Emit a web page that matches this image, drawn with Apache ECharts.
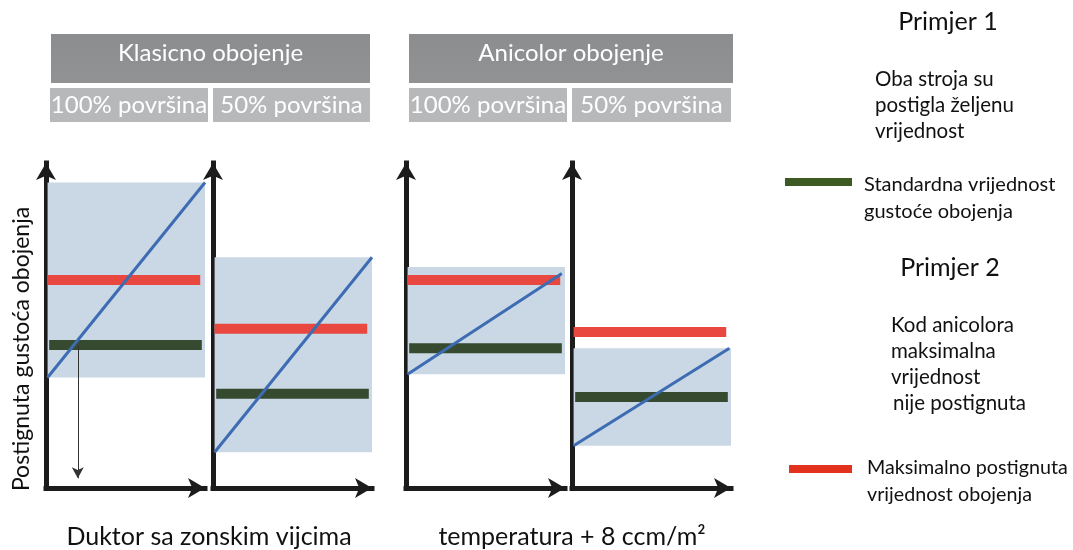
<!DOCTYPE html>
<html>
<head>
<meta charset="utf-8">
<style>
  html, body { margin: 0; padding: 0; background: #fff; }
  #container { width: 1073px; height: 550px; }
</style>
<script src="https://cdn.jsdelivr.net/npm/echarts@6/dist/echarts.min.js"></script>
</head>
<body>
<div id="container"></div>
<script>
// one entry per panel: Klasicno 100%, Klasicno 50%, Anicolor 100%, Anicolor 50%
var shadeLow = [34, 11, 35, 13];
var shadeHigh = [94, 71, 68, 43];
var trendStart = [34, 11, 35, 13];
var trendEnd = [94, 71, 66, 43];
var trendEndX = [100, 100, 98, 99];
var maxValue = [64, 49, 64, 48];
var standardValue = [44, 29, 43, 28];

var groupTitles = ["Klasicno obojenje", "Anicolor obojenje"];
var subTitles = ["100% površina", "50% površina", "100% površina", "50% površina"];
var xTitles = ["Duktor sa zonskim vijcima", "temperatura + 8 ccm/m²"];
var yTitle = "Postignuta gustoća obojenja";

var FONT = "Lato";
var dom = document.getElementById("container");
var myChart = echarts.init(dom, null, { renderer: "canvas" });

var gridLeft = [46, 213, 406, 572];
var gridWidth = [159, 159, 159, 159];

var grids = [], xAxes = [], yAxes = [], series = [];
var axisLine = {
  show: true,
  symbol: ["none", "arrow"],
  symbolSize: [15, 17],
  lineStyle: { color: "#1c1c1c", width: 5, cap: "square" }
};

for (var i = 0; i < 4; i++) {
  grids.push({ left: gridLeft[i], width: gridWidth[i], top: 163, bottom: 62 });
  xAxes.push({
    type: "value", gridIndex: i, min: 0, max: 100,
    axisLine: axisLine, axisTick: { show: false },
    axisLabel: { show: false }, splitLine: { show: false }
  });
  yAxes.push({
    type: "value", gridIndex: i, min: 0, max: 100,
    axisLine: axisLine, axisTick: { show: false },
    axisLabel: { show: false }, splitLine: { show: false }
  });
  series.push({
    type: "line", xAxisIndex: i, yAxisIndex: i, z: 3,
    symbol: "none", silent: true,
    lineStyle: { color: "#3d6cb3", width: 3 },
    data: [[1, trendStart[i]], [trendEndX[i], trendEnd[i]]],
    markArea: {
      silent: true,
      itemStyle: { color: "#cad8e6" },
      data: [[{ coord: [1, shadeLow[i]] }, { coord: [100, shadeHigh[i]] }]]
    }
  });
  series.push({
    type: "line", xAxisIndex: i, yAxisIndex: i, z: 2,
    symbol: "none", silent: true,
    lineStyle: { color: "#e8483f", width: 10, cap: "butt" },
    data: [[1, maxValue[i]], [97, maxValue[i]]]
  });
  series.push({
    type: "line", xAxisIndex: i, yAxisIndex: i, z: 2,
    symbol: "none", silent: true,
    lineStyle: { color: "#354a2f", width: 10, cap: "butt" },
    data: [[2, standardValue[i]], [98, standardValue[i]]]
  });
}

// thin arrow in first panel
series.push({
  type: "line", xAxisIndex: 0, yAxisIndex: 0, data: [], silent: true,
  markLine: {
    silent: true, symbolSize: [9, 11],
    lineStyle: { color: "#333", width: 1, type: "solid" },
    label: { show: false },
    data: [[{ coord: [20, standardValue[0]], symbol: "none" }, { coord: [20, 3], symbol: "arrow" }]]
  }
});

var graphics = [];
var groupBoxes = [[51, 319], [409, 324]];
for (var g = 0; g < 2; g++) {
  graphics.push({
    type: "rect", shape: { x: groupBoxes[g][0], y: 34, width: groupBoxes[g][1], height: 49 },
    style: { fill: new echarts.graphic.LinearGradient(0, 0, 0, 1, [
      { offset: 0, color: "#8b8d8f" }, { offset: 1, color: "#909294" }]) }
  });
  graphics.push({
    type: "text", x: groupBoxes[g][0] + groupBoxes[g][1] / 2, y: 53,
    style: { text: groupTitles[g], fill: "#fff", font: "24px " + FONT, align: "center", verticalAlign: "middle" }
  });
}
var subBoxes = [[50, 158], [213, 157], [409, 158], [572, 159]];
for (var s = 0; s < 4; s++) {
  graphics.push({
    type: "rect", shape: { x: subBoxes[s][0], y: 88, width: subBoxes[s][1], height: 34 },
    style: { fill: "#b6b8ba" }
  });
  graphics.push({
    type: "text", x: subBoxes[s][0] + subBoxes[s][1] / 2, y: 105,
    style: { text: subTitles[s], fill: "#fff", font: "24px " + FONT, align: "center", verticalAlign: "middle" }
  });
}
graphics.push({
  type: "text", x: 22, y: 349, rotation: Math.PI / 2,
  style: { text: yTitle, fill: "#111", font: "23px " + FONT, align: "center", verticalAlign: "middle" }
});
graphics.push({
  type: "text", x: 209, y: 537,
  style: { text: xTitles[0], fill: "#111", font: "25px " + FONT, align: "center", verticalAlign: "middle" }
});
graphics.push({
  type: "text", x: 572, y: 537,
  style: { text: xTitles[1], fill: "#111", font: "25px " + FONT, align: "center", verticalAlign: "middle" }
});

function txt(x, y, t, size, align) {
  graphics.push({
    type: "text", x: x, y: y,
    style: { text: t, fill: "#111", font: size + "px " + FONT, align: align || "left", verticalAlign: "middle" }
  });
}
txt(948, 22, "Primjer 1", 25, "center");
txt(875, 79, "Oba stroja su", 20.5);
txt(875, 105, "postigla željenu", 20.5);
txt(875, 131, "vrijednost", 20.5);
txt(864, 185, "Standardna vrijednost", 20);
txt(864, 212, "gustoće obojenja", 20);
txt(950, 268, "Primjer 2", 25, "center");
txt(891, 325, "Kod anicolora", 20.5);
txt(891, 351, "maksimalna", 20.5);
txt(891, 377, "vrijednost", 20.5);
txt(893, 403, "nije postignuta", 20.5);
txt(867, 468, "Maksimalno postignuta", 19.7);
txt(867, 495, "vrijednost obojenja", 19.7);
graphics.push({ type: "rect", shape: { x: 785, y: 178, width: 67, height: 8 }, style: { fill: "#3c5a22" } });
graphics.push({ type: "rect", shape: { x: 789, y: 465, width: 63, height: 8 }, style: { fill: "#e2311c" } });

var option = {
  backgroundColor: "#fff",
  animation: false,
  grid: grids,
  xAxis: xAxes,
  yAxis: yAxes,
  series: series,
  graphic: graphics
};

myChart.setOption(option);
window.addEventListener("resize", myChart.resize);
</script>
</body>
</html>
